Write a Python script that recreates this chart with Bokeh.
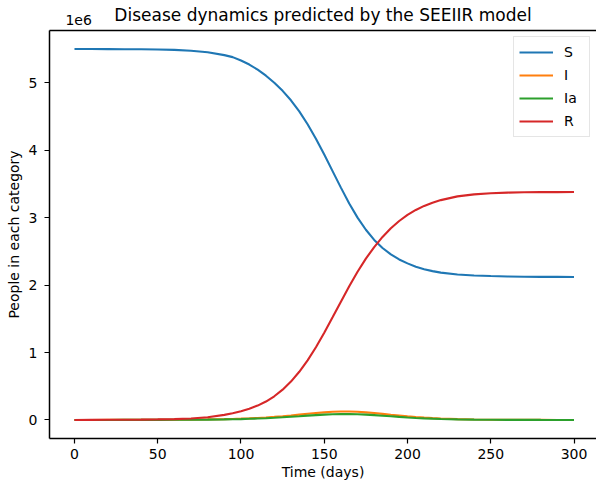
from bokeh.plotting import figure
from bokeh.models import Range1d, FixedTicker, Legend, LegendItem, LinearAxis
from bokeh.embed import file_html
from bokeh.resources import INLINE

# time in days
t = [0, 10, 20, 30, 40, 50, 60, 70, 80, 90, 95, 100, 105, 110, 115, 120, 125, 130,
     135, 140, 145, 150, 155, 160, 165, 170, 175, 180, 185, 190, 195, 200, 205, 210,
     215, 220, 230, 240, 250, 260, 270, 280, 290, 300]

# people in each category, in millions (axis shows 1e6 multiplier)
S = [5.50, 5.50, 5.499, 5.498, 5.496, 5.493, 5.487, 5.475, 5.452, 5.41, 5.38, 5.33,
     5.27, 5.195, 5.105, 5.00, 4.88, 4.74, 4.575, 4.385, 4.17, 3.935, 3.69, 3.445,
     3.21, 3.00, 2.82, 2.67, 2.55, 2.455, 2.38, 2.322, 2.272, 2.236, 2.207, 2.185,
     2.158, 2.143, 2.134, 2.128, 2.124, 2.122, 2.121, 2.12]
I = [0.0, 0.0, 0.0005, 0.001, 0.001, 0.002, 0.003, 0.005, 0.008, 0.012, 0.015, 0.019,
     0.024, 0.030, 0.037, 0.046, 0.056, 0.067, 0.079, 0.091, 0.103, 0.113, 0.121,
     0.125, 0.125, 0.121, 0.113, 0.102, 0.090, 0.077, 0.065, 0.053, 0.043, 0.034,
     0.027, 0.021, 0.012, 0.007, 0.004, 0.002, 0.001, 0.0007, 0.0004, 0.0002]
Ia = [0.0, 0.0, 0.0003, 0.0007, 0.0007, 0.0014, 0.002, 0.0035, 0.0055, 0.008, 0.010,
      0.013, 0.017, 0.021, 0.026, 0.032, 0.039, 0.047, 0.055, 0.064, 0.072, 0.079,
      0.085, 0.087, 0.087, 0.085, 0.079, 0.071, 0.063, 0.054, 0.045, 0.037, 0.030,
      0.024, 0.019, 0.015, 0.008, 0.005, 0.003, 0.0015, 0.0008, 0.0005, 0.0003, 0.0001]
R = [0.0, 0.001, 0.002, 0.003, 0.005, 0.008, 0.013, 0.022, 0.04, 0.075, 0.10, 0.13,
     0.167, 0.213, 0.273, 0.351, 0.449, 0.569, 0.714, 0.884, 1.079, 1.294, 1.522,
     1.754, 1.982, 2.197, 2.392, 2.564, 2.714, 2.842, 2.95, 3.04, 3.114, 3.174,
     3.222, 3.26, 3.315, 3.345, 3.362, 3.371, 3.376, 3.378, 3.379, 3.38]

series_names = ["S", "I", "Ia", "R"]
colors = ["#1f77b4", "#ff7f0e", "#2ca02c", "#d62728"]
x_ticks = [0, 50, 100, 150, 200, 250, 300]
y_ticks = [0, 1, 2, 3, 4, 5]
title_text = "Disease dynamics predicted by the SEEIIR model"
multiplier_text = "1e6"

FONT = "DejaVu Sans"

p = figure(width=596, height=484, output_backend="svg", toolbar_location=None,
           title=None,
           x_range=Range1d(-15, 313.5), y_range=Range1d(-0.275, 5.775),
           min_border_left=49, min_border_right=0, min_border_top=30,
           min_border_bottom=46)

p.grid.visible = False
p.outline_line_color = None
p.background_fill_color = "white"
p.border_fill_color = "white"

bottom = p.below[0]
left = p.left[0]

for ax in (bottom, left):
    ax.axis_line_color = "black"
    ax.axis_line_width = 1.5
    ax.major_tick_line_color = "black"
    ax.major_tick_line_width = 1.2
    ax.major_tick_out = 5
    ax.major_tick_in = 0
    ax.minor_tick_line_color = None
    ax.major_label_text_font = FONT
    ax.major_label_text_font_size = "14px"
    ax.major_label_text_color = "black"
    ax.axis_label_text_font = FONT
    ax.axis_label_text_font_size = "14px"
    ax.axis_label_text_font_style = "normal"
    ax.axis_label_text_color = "black"

bottom.ticker = FixedTicker(ticks=x_ticks)
left.ticker = FixedTicker(ticks=y_ticks)
bottom.axis_label = "Time (days)"
left.axis_label = "People in each category"
bottom.major_label_standoff = 5
bottom.axis_label_standoff = 2
left.major_label_standoff = 7
left.axis_label_standoff = 4

# top spine, carrying the 1e6 multiplier as its only tick label and the title as its label
mult_pos = 2.5
top_axis = LinearAxis(axis_line_color="black", axis_line_width=1.5,
                      major_tick_line_color=None, minor_tick_line_color=None,
                      ticker=FixedTicker(ticks=[mult_pos]),
                      major_label_overrides={mult_pos: multiplier_text},
                      major_label_text_font=FONT, major_label_text_font_size="14px",
                      major_label_text_color="black", major_label_standoff=0,
                      axis_label=title_text, axis_label_text_font=FONT,
                      axis_label_text_font_size="17px",
                      axis_label_text_font_style="normal",
                      axis_label_text_color="black", axis_label_standoff=-13)
p.add_layout(top_axis, "above")

items = []
for name, ys, c in zip(series_names, [S, I, Ia, R], colors):
    r = p.line(t, ys, line_color=c, line_width=2.1)
    items.append(LegendItem(label=name, renderers=[r]))

legend = Legend(items=items, location="top_right",
                label_text_font=FONT, label_text_font_size="14px",
                label_text_color="black",
                glyph_width=34, glyph_height=20, label_height=20,
                spacing=3, padding=5, margin=6, label_standoff=11,
                border_line_color="#cccccc", border_line_width=1,
                background_fill_color="white", background_fill_alpha=0.8)
p.add_layout(legend)

open("out.html", "w").write(file_html(p, INLINE))
